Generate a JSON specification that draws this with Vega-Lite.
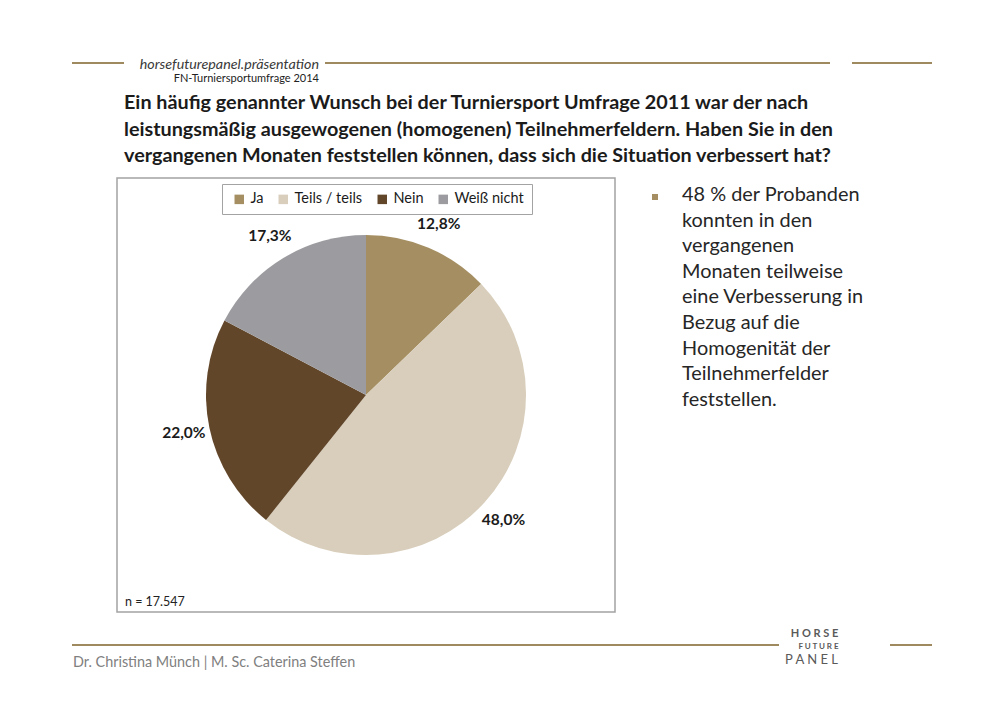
{
  "$schema": "https://vega.github.io/schema/vega-lite/v6.json",
  "background": "white",
  "padding": {"left": 72, "top": 57, "right": 0, "bottom": 0},
  "bounds": "flush",
  "spacing": 0,
  "config": {
    "font": "Lato",
    "concat": {"spacing": 0},
    "view": {"stroke": null},
    "title": {"font": "Lato"},
    "legend": {"labelFont": "Lato", "titleFont": "Lato"},
    "locale": {"number": {"decimal": ",", "thousands": ".", "grouping": [3], "currency": ["", " €"]}}
  },
  "datasets": {
    "dummy": [{"v": 0}],
    "answers": [
      {"nr": 1, "antwort": "Ja", "anteil": 0.128},
      {"nr": 2, "antwort": "Teils / teils", "anteil": 0.48},
      {"nr": 3, "antwort": "Nein", "anteil": 0.22},
      {"nr": 4, "antwort": "Weiß nicht", "anteil": 0.173}
    ]
  },
  "vconcat": [
    {
      "bounds": "flush",
      "hconcat": [
        {"data": {"name": "dummy"}, "mark": {"type": "point", "opacity": 0}, "encoding": {}, "width": 50, "height": 0.01, "view": {"stroke": "#9e8a5e", "strokeWidth": 2}},
        {"data": {"name": "dummy"}, "mark": {"type": "point", "opacity": 0}, "encoding": {}, "width": 196, "height": 0.01,
         "title": {"text": "horsefuturepanel.präsentation", "subtitle": "FN-Turniersportumfrage 2014", "orient": "bottom", "anchor": "end", "offset": -8,
                   "fontSize": 14.3, "fontStyle": "italic", "fontWeight": "normal", "color": "#3a3a3a",
                   "subtitleFontSize": 11, "subtitleColor": "#222222", "subtitlePadding": 1, "subtitleFont": "Lato"}},
        {"data": {"name": "dummy"}, "mark": {"type": "point", "opacity": 0}, "encoding": {}, "width": 7, "height": 0.01},
        {"data": {"name": "dummy"}, "mark": {"type": "point", "opacity": 0}, "encoding": {}, "width": 503, "height": 0.01, "view": {"stroke": "#9e8a5e", "strokeWidth": 2}},
        {"data": {"name": "dummy"}, "mark": {"type": "point", "opacity": 0}, "encoding": {}, "width": 24, "height": 0.01},
        {"data": {"name": "dummy"}, "mark": {"type": "point", "opacity": 0}, "encoding": {}, "width": 78, "height": 0.01, "view": {"stroke": "#9e8a5e", "strokeWidth": 2}}
      ]
    },
    {"data": {"name": "dummy"}, "mark": {"type": "point", "opacity": 0}, "encoding": {}, "width": 10, "height": 115},
    {
      "bounds": "flush",
      "title": {
        "text": [
          "Ein häufig genannter Wunsch bei der Turniersport Umfrage 2011 war der nach",
          "leistungsmäßig ausgewogenen (homogenen) Teilnehmerfeldern. Haben Sie in den",
          "vergangenen Monaten feststellen können, dass sich die Situation verbessert hat?"
        ],
        "anchor": "start", "dx": 51, "offset": 11, "fontSize": 19.8, "fontWeight": "bold", "color": "#1b1b1b", "lineHeight": 26.5
      },
      "hconcat": [
        {"data": {"name": "dummy"}, "mark": {"type": "point", "opacity": 0}, "encoding": {}, "width": 44, "height": 434},
        {
          "data": {"name": "answers"},
          "width": 498,
          "height": 434,
          "view": {"stroke": "#a3a3a3", "strokeWidth": 1.5},
          "title": {"text": "n = 17.547", "orient": "bottom", "anchor": "start", "offset": -16, "dx": 8, "fontSize": 12.5, "fontWeight": "normal", "color": "#222222"},
          "encoding": {
            "theta": {"field": "anteil", "type": "quantitative", "stack": true},
            "order": {"field": "nr", "type": "quantitative"}
          },
          "layer": [
            {
              "mark": {"type": "arc", "outerRadius": 160},
              "encoding": {
                "color": {
                  "field": "antwort", "type": "nominal",
                  "scale": {"domain": ["Ja", "Teils / teils", "Nein", "Weiß nicht"], "range": ["#a58f62", "#d8cebb", "#62462a", "#9c9ca0"]},
                  "legend": {
                    "orient": "none", "legendX": 149, "legendY": 121, "direction": "horizontal", "title": null,
                    "strokeColor": "#a3a3a3", "fillColor": "white", "padding": 8,
                    "symbolType": "square", "symbolSize": 90, "symbolStrokeWidth": 0, "symbolOffset": 2,
                    "labelFontSize": 14.5, "labelColor": "#1b1b1b", "columnPadding": 10, "labelOffset": 4
                  }
                }
              }
            },
            {
              "mark": {"type": "text", "radius": 186, "fontSize": 15.5, "fontWeight": "bold", "color": "#1b1b1b"},
              "encoding": {
                "text": {"field": "anteil", "type": "quantitative", "format": ".1%"}
              }
            }
          ]
        },
        {"data": {"name": "dummy"}, "mark": {"type": "point", "opacity": 0}, "encoding": {}, "width": 40, "height": 434},
        {
          "data": {"name": "dummy"},
          "width": 0.01,
          "height": 38,
          "layer": [
            {"mark": {"type": "square", "size": 36, "color": "#a58f62", "opacity": 1}, "encoding": {}},
            {"mark": {"type": "text", "align": "left", "baseline": "top", "dx": 27, "dy": -12, "fontSize": 19.9, "lineHeight": 25.6, "color": "#262626", "lineBreak": "\n"},
             "encoding": {"text": {"value": "48 % der Probanden\nkonnten in den\nvergangenen\nMonaten teilweise\neine Verbesserung in\nBezug auf die\nHomogenität der\nTeilnehmerfelder\nfeststellen."}}}
          ]
        }
      ]
    },
    {"data": {"name": "dummy"}, "mark": {"type": "point", "opacity": 0}, "encoding": {}, "width": 10, "height": 467},
    {
      "bounds": "flush",
      "hconcat": [
        {"data": {"name": "dummy"}, "mark": {"type": "point", "opacity": 0}, "encoding": {}, "width": 705, "height": 0.01, "view": {"stroke": "#9e8a5e", "strokeWidth": 2},
         "title": {"text": "Dr. Christina Münch | M. Sc. Caterina Steffen", "orient": "bottom", "anchor": "start", "offset": 8, "fontSize": 14.4, "fontWeight": "normal", "color": "#808080"}},
        {
          "data": {"name": "dummy"}, "width": 113, "height": 0.01,
          "layer": [
            {"mark": {"type": "text", "text": "H O R S E", "fontSize": 11, "fontWeight": "bold", "color": "#5a5a5a", "dx": -20, "dy": -11}, "encoding": {}},
            {"mark": {"type": "text", "text": "F U T U R E", "fontSize": 8, "fontWeight": "bold", "color": "#5a5a5a", "dx": -16, "dy": 2}, "encoding": {}},
            {"mark": {"type": "text", "text": "P A N E L", "fontSize": 13, "fontWeight": "normal", "color": "#5a5a5a", "dx": -23, "dy": 15}, "encoding": {}}
          ]
        },
        {"data": {"name": "dummy"}, "mark": {"type": "point", "opacity": 0}, "encoding": {}, "width": 40, "height": 0.01, "view": {"stroke": "#9e8a5e", "strokeWidth": 2}}
      ]
    }
  ]
}
